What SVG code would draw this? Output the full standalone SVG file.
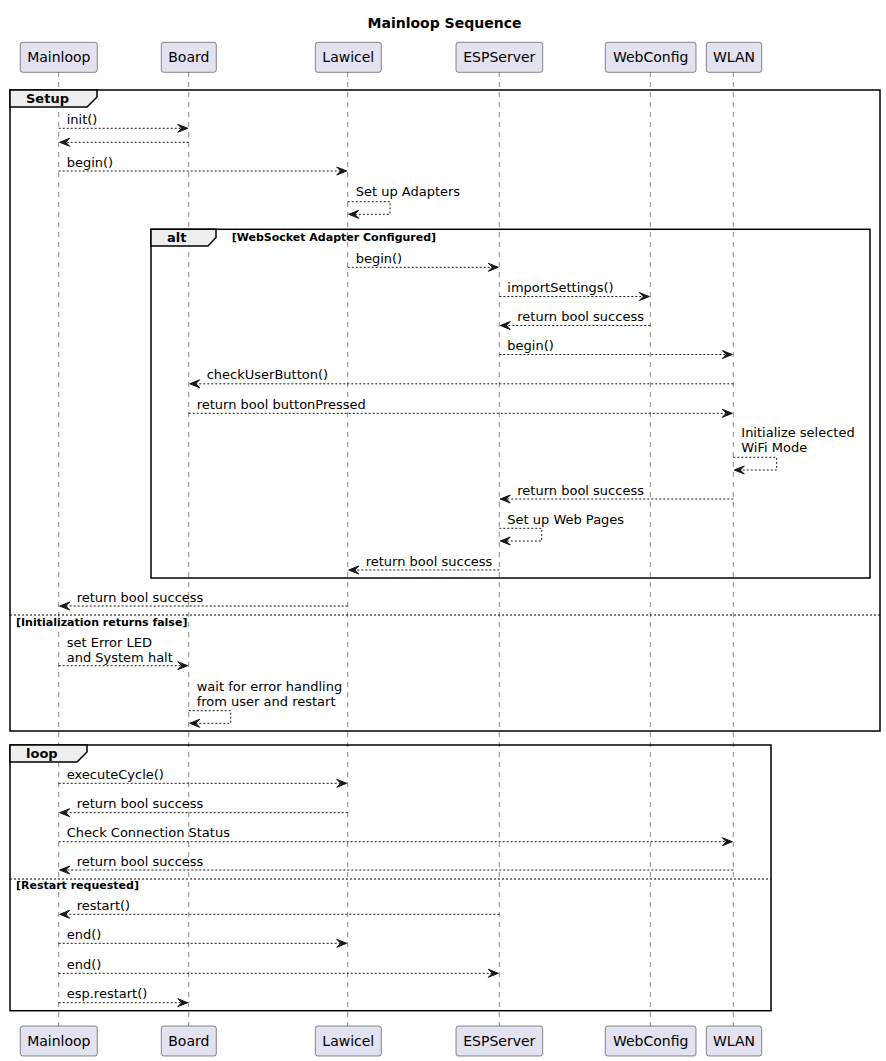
<svg xmlns="http://www.w3.org/2000/svg" width="886" height="1061" viewBox="0 0 886 1061">
<defs>
<style>
text{font-family:"DejaVu Sans","Liberation Sans",sans-serif;fill:#000}
.t{font-size:14px;font-weight:bold}
.h{font-size:14px}
.m{font-size:13px}
.fl{font-size:13px;font-weight:bold}
.c{font-size:11px;font-weight:bold}
.box{fill:#E2E2F0;stroke:#181818;stroke-width:0.5}
.life{stroke:#181818;stroke-width:0.5;stroke-dasharray:5,5;fill:none}
.msg{stroke:#181818;stroke-width:1;stroke-dasharray:2,2;fill:none}
.frame{fill:none;stroke:#000;stroke-width:1.5}
.tab{fill:#EEEEEE;stroke:#000;stroke-width:1.5}
.sep{stroke:#000;stroke-width:1;stroke-dasharray:2,2}
</style>
<marker id="arr" viewBox="0 0 10 8" refX="10" refY="4" markerWidth="10" markerHeight="8" markerUnits="userSpaceOnUse" orient="auto" overflow="visible">
<polygon points="10,4 0,0 4,4 0,8" fill="#181818" stroke="#181818" stroke-width="1" stroke-linejoin="miter"/>
</marker>
</defs>
<rect width="886" height="1061" fill="#fff"/>
<text class="t" x="444.5" y="28" text-anchor="middle">Mainloop Sequence</text>

<g id="lifelines">
<line class="life" x1="58.7" y1="72" x2="58.7" y2="1026"/>
<line class="life" x1="188.7" y1="72" x2="188.7" y2="1026"/>
<line class="life" x1="347.7" y1="72" x2="347.7" y2="1026"/>
<line class="life" x1="499.3" y1="72" x2="499.3" y2="1026"/>
<line class="life" x1="650.3" y1="72" x2="650.3" y2="1026"/>
<line class="life" x1="733.3" y1="72" x2="733.3" y2="1026"/>
</g>

<g id="frames">
<rect class="frame" x="10" y="90" width="870" height="641"/>
<path class="tab" d="M10,90 L97,90 L97,97 L87,107 L10,107 Z"/>
<text class="fl" x="26" y="103">Setup</text>
<line class="sep" x1="10" y1="615" x2="880" y2="615"/>
<text class="c" x="16" y="626">[Initialization returns false]</text>

<rect class="frame" x="151" y="229.3" width="719" height="348.7"/>
<path class="tab" d="M151,229.3 L216,229.3 L216,237.5 L208,246 L151,246 Z"/>
<text class="fl" x="167" y="242">alt</text>
<text class="c" x="231.7" y="240.5">[WebSocket Adapter Configured]</text>

<rect class="frame" x="10" y="745" width="761" height="265.7"/>
<path class="tab" d="M10,745 L87,745 L87,752 L77,762 L10,762 Z"/>
<text class="fl" x="26" y="758">loop</text>
<line class="sep" x1="10" y1="879" x2="771" y2="879"/>
<text class="c" x="16" y="889">[Restart requested]</text>
</g>

<g id="connectors">
<line class="msg" x1="58.7" y1="128.3" x2="187.7" y2="128.3" marker-end="url(#arr)"/>
<text class="m" x="66.7" y="124">init()</text>
<line class="msg" x1="188.7" y1="142.3" x2="59.7" y2="142.3" marker-end="url(#arr)"/>
<line class="msg" x1="58.7" y1="171" x2="346.7" y2="171" marker-end="url(#arr)"/>
<text class="m" x="66.7" y="166.5">begin()</text>
<polyline class="msg" points="347.7,201.7 390,201.7 390,214.3 348.7,214.3" marker-end="url(#arr)"/>
<text class="m" x="355.7" y="195.5">Set up Adapters</text>

<line class="msg" x1="347.7" y1="267.3" x2="498.3" y2="267.3" marker-end="url(#arr)"/>
<text class="m" x="355.7" y="263">begin()</text>
<line class="msg" x1="499.3" y1="296.5" x2="649.3" y2="296.5" marker-end="url(#arr)"/>
<text class="m" x="507.3" y="292">importSettings()</text>
<line class="msg" x1="650.3" y1="325.5" x2="500.3" y2="325.5" marker-end="url(#arr)"/>
<text class="m" x="517.3" y="321">return bool success</text>
<line class="msg" x1="499.3" y1="354.5" x2="732.3" y2="354.5" marker-end="url(#arr)"/>
<text class="m" x="507.3" y="350">begin()</text>
<line class="msg" x1="733.3" y1="383.8" x2="189.7" y2="383.8" marker-end="url(#arr)"/>
<text class="m" x="206.7" y="379.3">checkUserButton()</text>
<line class="msg" x1="188.7" y1="413.3" x2="732.3" y2="413.3" marker-end="url(#arr)"/>
<text class="m" x="196.7" y="409">return bool buttonPressed</text>
<polyline class="msg" points="733.3,457.3 776.7,457.3 776.7,470 734.3,470" marker-end="url(#arr)"/>
<text class="m" x="741.3" y="437">Initialize selected</text>
<text class="m" x="741.3" y="452">WiFi Mode</text>
<line class="msg" x1="733.3" y1="499" x2="500.3" y2="499" marker-end="url(#arr)"/>
<text class="m" x="517.3" y="494.5">return bool success</text>
<polyline class="msg" points="499.3,528.3 541.7,528.3 541.7,541 500.3,541" marker-end="url(#arr)"/>
<text class="m" x="507.3" y="523.5">Set up Web Pages</text>
<line class="msg" x1="499.3" y1="570" x2="348.7" y2="570" marker-end="url(#arr)"/>
<text class="m" x="365.7" y="565.5">return bool success</text>

<line class="msg" x1="347.7" y1="606" x2="59.7" y2="606" marker-end="url(#arr)"/>
<text class="m" x="76.7" y="601.5">return bool success</text>
<line class="msg" x1="58.7" y1="665.7" x2="187.7" y2="665.7" marker-end="url(#arr)"/>
<text class="m" x="66.7" y="646.5">set Error LED</text>
<text class="m" x="66.7" y="661.5">and System halt</text>
<polyline class="msg" points="188.7,710.7 230.7,710.7 230.7,723.3 189.7,723.3" marker-end="url(#arr)"/>
<text class="m" x="196.7" y="690.5">wait for error handling</text>
<text class="m" x="196.7" y="705.5">from user and restart</text>

<line class="msg" x1="58.7" y1="783.3" x2="346.7" y2="783.3" marker-end="url(#arr)"/>
<text class="m" x="66.7" y="779">executeCycle()</text>
<line class="msg" x1="347.7" y1="812.7" x2="59.7" y2="812.7" marker-end="url(#arr)"/>
<text class="m" x="76.7" y="808.2">return bool success</text>
<line class="msg" x1="58.7" y1="841.7" x2="732.3" y2="841.7" marker-end="url(#arr)"/>
<text class="m" x="66.7" y="837.2">Check Connection Status</text>
<line class="msg" x1="733.3" y1="870" x2="59.7" y2="870" marker-end="url(#arr)"/>
<text class="m" x="76.7" y="865.5">return bool success</text>
<line class="msg" x1="499.3" y1="914.3" x2="59.7" y2="914.3" marker-end="url(#arr)"/>
<text class="m" x="76.7" y="909.8">restart()</text>
<line class="msg" x1="58.7" y1="943.3" x2="346.7" y2="943.3" marker-end="url(#arr)"/>
<text class="m" x="66.7" y="938.8">end()</text>
<line class="msg" x1="58.7" y1="973.3" x2="498.3" y2="973.3" marker-end="url(#arr)"/>
<text class="m" x="66.7" y="968.8">end()</text>
<line class="msg" x1="58.7" y1="1002.7" x2="187.7" y2="1002.7" marker-end="url(#arr)"/>
<text class="m" x="66.7" y="998.2">esp.restart()</text>
</g>

<g id="Mainloop">
<rect class="box" x="20.3" y="42.3" width="77" height="30" rx="2.5"/>
<text class="h" x="58.8" y="62.3" text-anchor="middle">Mainloop</text>
<rect class="box" x="20.3" y="1026" width="77" height="30" rx="2.5"/>
<text class="h" x="58.8" y="1046" text-anchor="middle">Mainloop</text>
</g>
<g id="Board">
<rect class="box" x="161.3" y="42.3" width="55" height="30" rx="2.5"/>
<text class="h" x="188.8" y="62.3" text-anchor="middle">Board</text>
<rect class="box" x="161.3" y="1026" width="55" height="30" rx="2.5"/>
<text class="h" x="188.8" y="1046" text-anchor="middle">Board</text>
</g>
<g id="Lawicel">
<rect class="box" x="315.3" y="42.3" width="66" height="30" rx="2.5"/>
<text class="h" x="348.3" y="62.3" text-anchor="middle">Lawicel</text>
<rect class="box" x="315.3" y="1026" width="66" height="30" rx="2.5"/>
<text class="h" x="348.3" y="1046" text-anchor="middle">Lawicel</text>
</g>
<g id="ESPServer">
<rect class="box" x="456" y="42.3" width="86.7" height="30" rx="2.5"/>
<text class="h" x="499.3" y="62.3" text-anchor="middle">ESPServer</text>
<rect class="box" x="456" y="1026" width="86.7" height="30" rx="2.5"/>
<text class="h" x="499.3" y="1046" text-anchor="middle">ESPServer</text>
</g>
<g id="WebConfig">
<rect class="box" x="605.3" y="42.3" width="90.7" height="30" rx="2.5"/>
<text class="h" x="650.7" y="62.3" text-anchor="middle">WebConfig</text>
<rect class="box" x="605.3" y="1026" width="90.7" height="30" rx="2.5"/>
<text class="h" x="650.7" y="1046" text-anchor="middle">WebConfig</text>
</g>
<g id="WLAN">
<rect class="box" x="706.3" y="42.3" width="55.4" height="30" rx="2.5"/>
<text class="h" x="734" y="62.3" text-anchor="middle">WLAN</text>
<rect class="box" x="706.3" y="1026" width="55.4" height="30" rx="2.5"/>
<text class="h" x="734" y="1046" text-anchor="middle">WLAN</text>
</g>
</svg>
